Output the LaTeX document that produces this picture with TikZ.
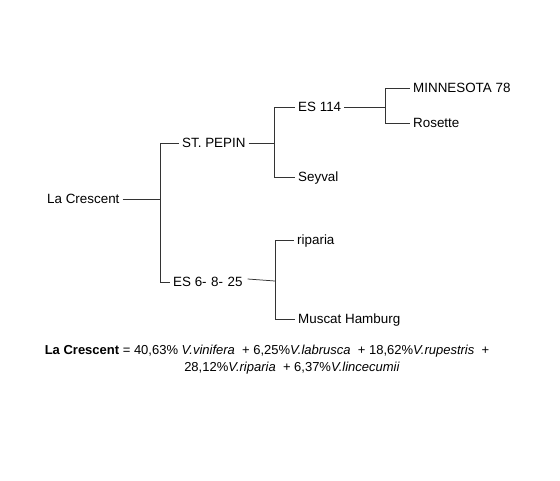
\documentclass[tikz,border=0pt]{standalone}
\usepackage{fontspec}
\setmainfont{Liberation Sans}
\usepackage{tikz}
\usetikzlibrary{positioning}

\begin{document}
\begin{tikzpicture}[
  x=1pt, y=-1pt,
  cv/.style={anchor=west, inner sep=3pt, text height=9.6pt, text depth=0pt, font=\fontsize{13.4}{16}\selectfont},
  formula/.style={anchor=center, inner sep=0pt, font=\fontsize{13}{16}\selectfont},
  ln/.style={line width=0.75pt, black!80}
]
  \useasboundingbox (0,0) rectangle (560,480);
  \node[cv] (lacrescent) at (44,199) {La Crescent};
  \coordinate (j1) at (160,199);
  \node[cv] (pepin) at (179,143) {ST. PEPIN};
  \node[cv] (es6) at (170,282) {ES 6-\,\,8-\,\,25};
  \coordinate (j2) at (274,143);
  \node[cv] (es114) at (295,107) {ES 114};
  \node[cv] (seyval) at (295,177) {Seyval};
  \coordinate (j3) at (385,107);
  \node[cv] (minnesota) at (410,88) {MINNESOTA 78};
  \node[cv] (rosette) at (410,123) {Rosette};
  \coordinate (j4) at (275,281);
  \node[cv] (riparia) at (294,240) {riparia};
  \node[cv] (muscat) at (295,319) {Muscat Hamburg};
  \draw[ln] (lacrescent) -- (j1);
  \draw[ln] (j1) |- (pepin);
  \draw[ln] (j1) |- (es6);
  \draw[ln] (pepin) -- (j2);
  \draw[ln] (j2) |- (es114);
  \draw[ln] (j2) |- (seyval);
  \draw[ln] (es114) -- (j3);
  \draw[ln] (j3) |- (minnesota);
  \draw[ln] (j3) |- (rosette);
  \draw[ln] ([xshift=2pt,yshift=3pt]es6.east) -- (j4);
  \draw[ln] (j4) |- (riparia);
  \draw[ln] (j4) |- (muscat);
  \node[formula] (line1) at (267,351) {\textbf{La Crescent} = 40,63\% \textit{V.vinifera}\ \ + 6,25\%\textit{V.labrusca}\ \ + 18,62\%\textit{V.rupestris}\ \ +};
  \node[formula] (line2) at (292,368) {28,12\%\textit{V.riparia}\ \ + 6,37\%\textit{V.lincecumii}};
\end{tikzpicture}
\end{document}
